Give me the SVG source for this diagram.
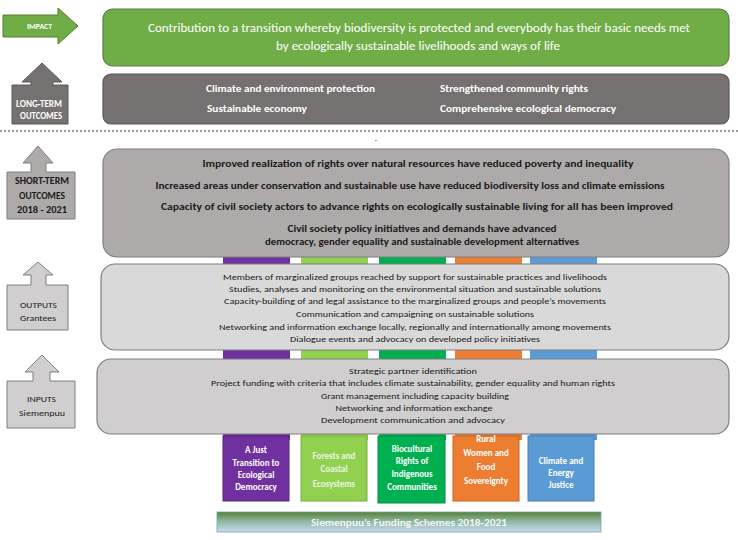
<svg xmlns="http://www.w3.org/2000/svg" width="738" height="540" viewBox="0 0 738 540">
<defs>
<linearGradient id="bannerGrad" x1="0" y1="0" x2="0" y2="1">
<stop offset="0" stop-color="#548235"/>
<stop offset="0.45" stop-color="#8fb5a0"/>
<stop offset="1" stop-color="#c5ddf2"/>
</linearGradient>
<style>
text{font-family:Carlito,"Liberation Sans Narrow","Liberation Sans",sans-serif;text-anchor:middle}
.b{font-weight:bold}
.w{fill:#ffffff}
.d{fill:#1a1a1a}
.box{stroke-width:1.2}
.lbl{font-size:9px}
.sch{font-size:9px;font-weight:bold}
</style>
</defs>
<rect width="738" height="540" fill="#ffffff"/>

<g id="bars">
<rect x="223" y="250" width="67" height="190" fill="#7030a0"/>
<rect x="301" y="250" width="67" height="190" fill="#92d050"/>
<rect x="379" y="250" width="67" height="190" fill="#00b050"/>
<rect x="455" y="250" width="67" height="190" fill="#ed7d31"/>
<rect x="530" y="250" width="67" height="190" fill="#5b9bd5"/>
</g>

<g id="connectors">
<line x1="0" y1="131" x2="738" y2="131" stroke="#333333" stroke-width="1" stroke-dasharray="2,2"/>
</g>

<g id="impact-label">
<path d="M3,15 H58 V8 L78,26 L58,44 V37 H3 Z" fill="#70ad47" stroke="#507e32" stroke-width="1"/>
<text x="39.5" y="29" class="w b" style="font-size:7.5px" textLength="25" lengthAdjust="spacingAndGlyphs">IMPACT</text>
</g>
<g id="longterm-label">
<path d="M12,124 V85 H31 V82 H22 L42,63 L62,82 H53 V85 H68 V124 Z" fill="#767171" stroke="#595959" stroke-width="1"/>
<text x="39" y="107" class="w b lbl" textLength="46" lengthAdjust="spacingAndGlyphs">LONG-TERM</text>
<text x="41" y="119" class="w b lbl" textLength="42" lengthAdjust="spacingAndGlyphs">OUTCOMES</text>
</g>
<g id="shortterm-label">
<path d="M7,219 V172 H31 V163 H23 L38,146 L53,163 H46 V172 H75 V219 Z" fill="#aeaaaa" stroke="#7f7f7f" stroke-width="1"/>
<text x="42" y="184" class="d b lbl" textLength="54" lengthAdjust="spacingAndGlyphs">SHORT-TERM</text>
<text x="42" y="199" class="d b lbl" textLength="46" lengthAdjust="spacingAndGlyphs">OUTCOMES</text>
<text x="42" y="213" class="d b lbl" textLength="50" lengthAdjust="spacingAndGlyphs">2018 - 2021</text>
</g>
<g id="outputs-label">
<path d="M7,330 V285 H31 V275 H23 L38,262 L53,275 H46 V285 H68 V330 Z" fill="#d0cece" stroke="#7f7f7f" stroke-width="1"/>
<text x="38.5" y="308" class="d lbl" textLength="37" lengthAdjust="spacingAndGlyphs">OUTPUTS</text>
<text x="38" y="321" class="d lbl" textLength="36" lengthAdjust="spacingAndGlyphs">Grantees</text>
</g>
<g id="inputs-label">
<path d="M7,428 V381 H33 V372 H25 L42,355 L59,372 H50 V381 H75 V428 Z" fill="#d0cece" stroke="#7f7f7f" stroke-width="1"/>
<text x="41.5" y="402" class="d lbl" textLength="29" lengthAdjust="spacingAndGlyphs">INPUTS</text>
<text x="42" y="416" class="d lbl" textLength="46" lengthAdjust="spacingAndGlyphs">Siemenpuu</text>
</g>

<g id="impact">
<rect x="103" y="9" width="626" height="57" rx="10" fill="#70ad47" stroke="#5a7f4a" class="box"/>
<text x="419" y="32" class="w" style="font-size:11.5px" textLength="542" lengthAdjust="spacingAndGlyphs">Contribution to a transition whereby biodiversity is protected and everybody has their basic needs met</text>
<text x="418" y="50" class="w" style="font-size:11.5px" textLength="284" lengthAdjust="spacingAndGlyphs">by ecologically sustainable livelihoods and ways of life</text>
</g>

<g id="longterm">
<rect x="103" y="74" width="626" height="50" rx="8" fill="#767171" stroke="#595959" class="box"/>
<g class="w b" style="font-size:9.5px">
<text x="206" y="92" style="text-anchor:start" textLength="169" lengthAdjust="spacingAndGlyphs">Climate and environment protection</text>
<text x="440" y="92" style="text-anchor:start" textLength="148" lengthAdjust="spacingAndGlyphs">Strengthened community rights</text>
<text x="207" y="112" style="text-anchor:start" textLength="100" lengthAdjust="spacingAndGlyphs">Sustainable economy</text>
<text x="440" y="112" style="text-anchor:start" textLength="176" lengthAdjust="spacingAndGlyphs">Comprehensive ecological democracy</text>
</g>
<text x="376" y="141" class="d" style="font-size:9px">.</text>
</g>

<g id="shortterm">
<rect x="103" y="149" width="626" height="108" rx="14" fill="#aeaaaa" stroke="#7f7f7f" class="box"/>
<g class="d b" style="font-size:9.5px">
<text x="418" y="167" textLength="431" lengthAdjust="spacingAndGlyphs">Improved realization of rights over natural resources have reduced poverty and inequality</text>
<text x="410" y="189" textLength="509" lengthAdjust="spacingAndGlyphs">Increased areas under conservation and sustainable use have reduced biodiversity loss and climate emissions</text>
<text x="417" y="210" textLength="512" lengthAdjust="spacingAndGlyphs">Capacity of civil society actors to advance rights on ecologically sustainable living for all has been improved</text>
<text x="422" y="232" textLength="269" lengthAdjust="spacingAndGlyphs">Civil society policy initiatives and demands have advanced</text>
<text x="422" y="245" textLength="314" lengthAdjust="spacingAndGlyphs">democracy, gender equality and sustainable development alternatives</text>
</g>
</g>

<g id="outputs">
<rect x="101" y="264" width="628" height="86" rx="14" fill="#d9d9d9" stroke="#7f7f7f" class="box"/>
<g class="d" style="font-size:9px">
<text x="415" y="280" textLength="384" lengthAdjust="spacingAndGlyphs">Members of marginalized groups reached by support for sustainable practices and livelihoods</text>
<text x="415" y="292" textLength="372" lengthAdjust="spacingAndGlyphs">Studies, analyses and monitoring on the environmental situation and sustainable solutions</text>
<text x="415" y="304" textLength="382" lengthAdjust="spacingAndGlyphs">Capacity-building of and legal assistance to the marginalized groups and people’s movements</text>
<text x="415" y="317" textLength="238" lengthAdjust="spacingAndGlyphs">Communication and campaigning on sustainable solutions</text>
<text x="415" y="330" textLength="392" lengthAdjust="spacingAndGlyphs">Networking and information exchange locally, regionally and internationally among movements</text>
<text x="415" y="342" textLength="250" lengthAdjust="spacingAndGlyphs">Dialogue events and advocacy on developed policy initiatives</text>
</g>
</g>

<g id="inputs">
<rect x="97" y="359" width="632" height="75" rx="14" fill="#d0cece" stroke="#7f7f7f" class="box"/>
<g class="d" style="font-size:9px">
<text x="413" y="374" textLength="128" lengthAdjust="spacingAndGlyphs">Strategic partner identification</text>
<text x="413" y="386" textLength="404" lengthAdjust="spacingAndGlyphs">Project funding with criteria that includes climate sustainability, gender equality and human rights</text>
<text x="415" y="399" textLength="188" lengthAdjust="spacingAndGlyphs">Grant management including capacity building</text>
<text x="414" y="411" textLength="157" lengthAdjust="spacingAndGlyphs">Networking and information exchange</text>
<text x="413" y="423" textLength="184" lengthAdjust="spacingAndGlyphs">Development communication and advocacy</text>
</g>
</g>

<g id="scheme-just-transition">
<rect x="223" y="436" width="66" height="65" fill="#7030a0" stroke="#5a2780" stroke-width="1"/>
<g class="w sch">
<text x="256" y="453">A Just</text>
<text x="256" y="466">Transition to</text>
<text x="256" y="478">Ecological</text>
<text x="256" y="490">Democracy</text>
</g>
</g>
<g id="scheme-forests">
<rect x="301" y="436" width="66" height="65" fill="#92d050" stroke="#78ad40" stroke-width="1"/>
<g class="sch" style="fill:#eaf6e0">
<text x="334" y="459">Forests and</text>
<text x="334" y="472">Coastal</text>
<text x="334" y="487">Ecosystems</text>
</g>
</g>
<g id="scheme-biocultural">
<rect x="378" y="436" width="67" height="67" fill="#00b050" stroke="#008f40" stroke-width="1"/>
<g class="w sch">
<text x="412" y="452">Biocultural</text>
<text x="412" y="464">Rights of</text>
<text x="412" y="477">Indigenous</text>
<text x="412" y="490">Communities</text>
</g>
</g>
<g id="scheme-rural-women">
<rect x="453" y="436" width="66" height="65" fill="#ed7d31" stroke="#c96520" stroke-width="1"/>
<g class="w sch">
<text x="486" y="442">Rural</text>
<text x="486" y="456">Women and</text>
<text x="486" y="470">Food</text>
<text x="486" y="484">Sovereignty</text>
</g>
</g>
<g id="scheme-climate">
<rect x="528" y="436" width="66" height="65" fill="#5b9bd5" stroke="#467fb5" stroke-width="1"/>
<g class="w sch">
<text x="561" y="464">Climate and</text>
<text x="561" y="476">Energy</text>
<text x="561" y="488">Justice</text>
</g>
</g>

<g id="banner">
<rect x="217" y="512" width="384" height="20" fill="url(#bannerGrad)" stroke="#7f9fb0" stroke-width="0.8"/>
<text x="409" y="525.5" class="b" style="font-size:9.5px;fill:#f2f7ee" textLength="196" lengthAdjust="spacingAndGlyphs">Siemenpuu’s Funding Schemes 2018-2021</text>
</g>
</svg>
